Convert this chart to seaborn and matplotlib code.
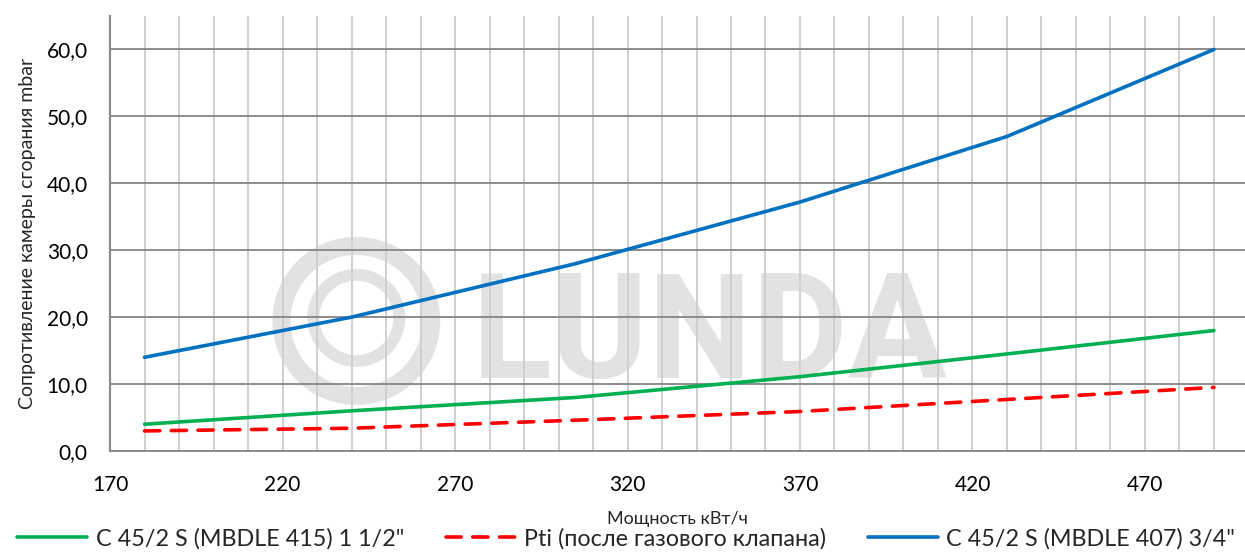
import numpy as np
import pandas as pd
import seaborn as sns
import matplotlib.pyplot as plt
from matplotlib.patches import Ellipse
from matplotlib.ticker import FuncFormatter, MultipleLocator, FixedLocator

# data
power = [180, 240, 305, 370, 430, 490]
green_vals = [4.0, 6.0, 8.0, 11.1, 14.5, 18.0]
red_vals = [3.0, 3.4, 4.6, 5.9, 7.7, 9.5]
blue_vals = [14.0, 20.0, 28.0, 37.2, 47.0, 60.0]

x_ticks = [170, 220, 270, 320, 370, 420, 470]
y_ticks = [0, 10, 20, 30, 40, 50, 60]

green_name = 'C 45/2 S (MBDLE 415) 1 1/2"'
red_name = 'Pti (после газового клапана)'
blue_name = 'C 45/2 S (MBDLE 407) 3/4"'

sns.set_style('white')
plt.rcParams['font.family'] = ['Lato', 'DejaVu Sans']

fig = plt.figure(figsize=(12.45, 5.52), dpi=100)
ax = fig.add_axes([0.0884, 0.183, 0.9116, 0.788])

# watermark (logo ring + text)
wm = '#e2e2e2'
ax.text(0.528, 0.168, 'LUNDA', transform=ax.transAxes, ha='center', va='baseline',
        fontsize=106, fontweight='bold', color=wm, zorder=0, family='Roboto')
ax.add_patch(Ellipse((0.217, 0.299), 0.132, 0.345, transform=ax.transAxes, fill=False,
                     ec=wm, lw=13, zorder=0))
ax.add_patch(Ellipse((0.217, 0.306), 0.0758, 0.198, transform=ax.transAxes, fill=False,
                     ec=wm, lw=8.6, zorder=0))

sns.lineplot(x=power, y=green_vals, ax=ax, color='#00B050', lw=2.6, label=green_name, zorder=3)
sns.lineplot(x=power, y=red_vals, ax=ax, color='#FF0000', lw=2.6, label=red_name, zorder=3,
             dashes=False, linestyle=(0, (4.2, 3.2)), dash_capstyle='round')
sns.lineplot(x=power, y=blue_vals, ax=ax, color='#0070C0', lw=2.6, label=blue_name, zorder=3)

ax.set_xlim(170, 499)
ax.set_ylim(0, 65)
ax.xaxis.set_major_locator(FixedLocator(x_ticks))
ax.xaxis.set_minor_locator(MultipleLocator(10))
ax.yaxis.set_major_locator(FixedLocator(y_ticks))
ax.yaxis.set_major_formatter(FuncFormatter(lambda v, p: f'{v:.1f}'.replace('.', ',')))
ax.grid(True, which='minor', axis='x', color='#cfcfcf', lw=1.4, zorder=1)
ax.grid(True, which='major', axis='x', color='#cfcfcf', lw=1.4, zorder=1)
ax.grid(True, which='major', axis='y', color='#8c8c8c', lw=1.4, zorder=1)
ax.set_axisbelow(True)
ax.tick_params(axis='both', which='both', length=0, labelsize=15, colors='#000000')
ax.tick_params(axis='x', pad=17)
ax.tick_params(axis='y', pad=16)
for s in ['top', 'right']:
    ax.spines[s].set_visible(False)
ax.spines['left'].set_color('#8c8c8c')
ax.spines['left'].set_linewidth(1.6)
ax.spines['bottom'].set_color('#8c8c8c')
ax.spines['bottom'].set_linewidth(1.4)

ax.set_xlabel('Мощность кВт/ч', fontsize=13, labelpad=12)
ax.set_ylabel('Сопротивление камеры сгорания mbar', fontsize=14, labelpad=8)

handles, labels = ax.get_legend_handles_labels()
ax.get_legend().remove()
fig.legend(handles, labels, loc='lower center', bbox_to_anchor=(0.503, -0.012),
           ncol=3, frameon=False, fontsize=16.8, handlelength=3.0,
           handletextpad=0.35, columnspacing=1.8, borderaxespad=0)

fig.savefig('out.png', dpi=100)
